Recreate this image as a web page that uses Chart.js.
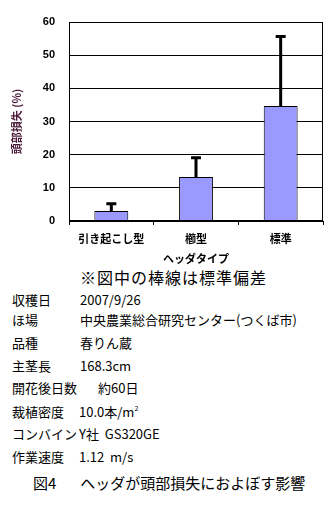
<!DOCTYPE html>
<html>
<head>
<meta charset="utf-8">
<script src="https://cdn.jsdelivr.net/npm/chart.js@4"></script>
<style>
  body { margin: 0; width: 333px; height: 509px; background: #fff; position: relative; overflow: hidden;
         font-family: "Noto Sans CJK JP", sans-serif; color: #000; }
  #wrap { position: absolute; left: 0; top: 0; width: 333px; height: 265px; }
  .t { position: absolute; font-size: 13px; line-height: 16px; white-space: nowrap; }
  sup { font-size: 7px; line-height: 0; position: relative; top: -6px; vertical-align: baseline; }
</style>
</head>
<body>
<div id="wrap"><canvas id="chart1" width="333" height="265"></canvas></div>

<div class="t" style="left:80px; top:268px; font-size:16px; line-height:18px; letter-spacing:1px;">※図中の棒線は標準偏差</div>
<div class="t" style="left:12px; top:292px;">収穫日</div><div class="t" style="left:80px; top:292px;">2007/9/26</div>
<div class="t" style="left:12px; top:312px;">ほ場</div><div class="t" style="left:80px; top:312px;">中央農業総合研究センター(つくば市)</div>
<div class="t" style="left:12px; top:335px;">品種</div><div class="t" style="left:80px; top:335px;">春りん蔵</div>
<div class="t" style="left:12px; top:358px;">主茎長</div><div class="t" style="left:80px; top:358px;">168.3cm</div>
<div class="t" style="left:12px; top:380px;">開花後日数</div><div class="t" style="left:98px; top:380px;">約60日</div>
<div class="t" style="left:12px; top:404px;">裁植密度</div><div class="t" style="left:79px; top:404px;">10.0本/m<sup>2</sup></div>
<div class="t" style="left:12px; top:426px;">コンバイン</div><div class="t" style="left:79px; top:426px;">Y社&nbsp;&nbsp;GS320GE</div>
<div class="t" style="left:12px; top:449px;">作業速度</div><div class="t" style="left:79px; top:449px;">1.12&nbsp;&nbsp;m/s</div>
<div class="t" style="left:33px; top:474px; font-size:15px; line-height:18px;">図4<span style="margin-left:24px">ヘッダが頭部損失におよぼす影響</span></div>

<script>
// データ
var categories = ['引き起こし型', '櫛型', '標準'];
var lossValues = [3.0, 13.3, 34.7];   // 頭部損失 (%)
var lossSD = [2.2, 5.8, 20.9];        // 標準偏差

var ctx1 = document.getElementById('chart1').getContext('2d');

// 誤差棒と枠線
var errorBars = {
    id: 'errorBars',
    afterDatasetsDraw: function(chart) {
        var ctx = chart.ctx;
        var y = chart.scales.y;
        var meta = chart.getDatasetMeta(0);
        ctx.save();
        ctx.strokeStyle = '#000';
        ctx.lineWidth = 3;
        meta.data.forEach(function(bar, i) {
            var top = y.getPixelForValue(lossValues[i] + lossSD[i]);
            ctx.beginPath();
            ctx.moveTo(bar.x, bar.y);
            ctx.lineTo(bar.x, top);
            ctx.moveTo(bar.x - 5, top);
            ctx.lineTo(bar.x + 5, top);
            ctx.stroke();
        });
        var a = chart.chartArea;
        ctx.lineWidth = 1;
        ctx.strokeRect(a.left + 0.5, a.top + 0.5, a.right - a.left - 1, a.bottom - a.top - 1);
        ctx.restore();
    }
};

var chart1 = new Chart(ctx1, {
    type: 'bar',
    data: {
        labels: categories,
        datasets: [{
            data: lossValues,
            backgroundColor: '#9999FF',
            borderColor: '#000',
            borderWidth: 1,
            barPercentage: 0.4,
            categoryPercentage: 1.0
        }]
    },
    options: {
        responsive: false,
        animation: false,
        layout: { padding: { top: 22, right: 10, left: 0, bottom: 0 } },
        plugins: { legend: { display: false }, tooltip: { enabled: false } },
        scales: {
            x: {
                grid: { drawOnChartArea: false, color: '#000', tickLength: 4 },
                border: { color: '#000' },
                ticks: { color: '#000', padding: 7, maxRotation: 0,
                         font: { family: 'Noto Sans CJK JP', size: 11, weight: 'bold' } },
                title: { display: true, text: 'ヘッダタイプ', color: '#000', padding: { top: 1, bottom: 0 },
                         font: { family: 'Noto Sans CJK JP', size: 11, weight: 'bold' } },
                afterFit: function(scale) { scale.height = 44; }
            },
            y: {
                min: 0, max: 60,
                ticks: { stepSize: 10, color: '#000', padding: 14,
                         font: { family: 'Liberation Sans', size: 11, weight: 'bold' } },
                grid: { color: '#000', drawTicks: false },
                border: { color: '#000' },
                title: { display: true, text: '頭部損失 (%)', color: '#4a1a38', padding: { top: 10, bottom: 0 },
                         font: { family: 'Noto Sans CJK JP', size: 11, weight: 'bold' } },
                afterFit: function(scale) { scale.width = 69; }
            }
        }
    },
    plugins: [errorBars]
});
</script>
</body>
</html>
